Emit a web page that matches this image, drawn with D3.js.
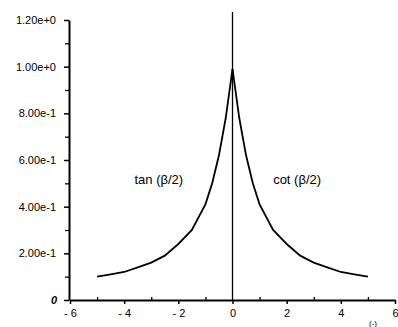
<!DOCTYPE html>
<html>
<head>
<meta charset="utf-8">
<script src="https://cdn.jsdelivr.net/npm/d3@7"></script>
<style>
body { margin: 0; background: #fff; }
svg { display: block; font-family: "Liberation Sans", Arial, sans-serif; }
.axis path, .axis line { stroke: #000; }
.axis text { fill: #000; }
</style>
</head>
<body>
<svg width="398" height="327"></svg>
<script>
// values
var xs = [-5, -4.5, -4, -3.5, -3, -2.5, -2, -1.5, -1, -0.75, -0.5, -0.25, 0]
var tanVals = [0.10, 0.11, 0.12, 0.14, 0.16, 0.19, 0.24, 0.30, 0.41, 0.50, 0.62, 0.78, 0.99]
var xsR = [0, 0.25, 0.5, 0.75, 1, 1.5, 2, 2.5, 3, 3.5, 4, 4.5, 5]
var cotVals = [0.99, 0.78, 0.62, 0.50, 0.41, 0.30, 0.24, 0.19, 0.16, 0.14, 0.12, 0.11, 0.10]

var yTicks = [0, 0.2, 0.4, 0.6, 0.8, 1.0, 1.2]
var yTickLabels = ["0", "2.00e-1", "4.00e-1", "6.00e-1", "8.00e-1", "1.00e+0", "1.20e+0"]
var yMinor = [0.1, 0.3, 0.5, 0.7, 0.9, 1.1]
var xTicks = [-6, -4, -2, 0, 2, 4, 6]
var xTickLabels = ["- 6", "- 4", "- 2", "0", "2", "4", "6"]
var xMinor = [-5, -3, -1, 1, 3, 5]

var svg = d3.select('svg')

var x = d3.scaleLinear().domain([-6, 6]).range([70, 395])
var y = d3.scaleLinear().domain([0, 1.2]).range([300, 20])

// minor ticks
svg.append('g')
.attr('class', 'axis')
.attr('transform', 'translate(69,0)')
.call(d3.axisLeft(y).tickValues(yMinor).tickSize(4).tickFormat(''))
.call(function (g) { g.select('.domain').remove() })
.selectAll('line').attr('stroke-width', 1.3)

svg.append('g')
.attr('class', 'axis')
.attr('transform', 'translate(0,300)')
.call(d3.axisTop(x).tickValues(xMinor).tickSize(3).tickFormat(''))
.call(function (g) { g.select('.domain').remove() })
.selectAll('line').attr('stroke-width', 1.3)

// y axis
var ya = svg.append('g')
.attr('class', 'axis')
.attr('transform', 'translate(69,0)')
.call(d3.axisLeft(y).tickValues(yTicks).tickSizeInner(5).tickSizeOuter(0).tickPadding(8)
  .tickFormat(function (d, i) { return yTickLabels[i] }))
ya.select('.domain').attr('stroke-width', 2)
ya.selectAll('line').attr('stroke-width', 1.5)
ya.selectAll('text').attr('font-size', 11)
ya.selectAll('.tick').filter(function (d) { return d === 0 }).select('text')
.attr('font-style', 'italic').attr('font-weight', 'bold').attr('x', -12)

// x axis
var xa = svg.append('g')
.attr('class', 'axis')
.attr('transform', 'translate(0,300)')
.call(d3.axisBottom(x).tickValues(xTicks).tickSizeInner(4).tickSizeOuter(0).tickPadding(5)
  .tickFormat(function (d, i) { return xTickLabels[i] }))
xa.select('.domain').attr('stroke-width', 2)
xa.selectAll('line').attr('stroke-width', 1.5)
xa.selectAll('text').attr('font-size', 11)

// vertical line at zero
svg.append('line')
.attr('x1', x(0)).attr('x2', x(0))
.attr('y1', 12).attr('y2', y(0))
.attr('stroke', '#000').attr('stroke-width', 1.3)

var line = d3.line()
.x(function (d) { return x(d[0]) })
.y(function (d) { return y(d[1]) })

svg.append('path')
.datum(d3.zip(xs, tanVals))
.attr('d', line)
.attr('fill', 'none').attr('stroke', '#000').attr('stroke-width', 1.8)

svg.append('path')
.datum(d3.zip(xsR, cotVals))
.attr('d', line)
.attr('fill', 'none').attr('stroke', '#000').attr('stroke-width', 1.8)

svg.append('text')
.attr('x', x(-3.62)).attr('y', y(0.498))
.attr('font-size', 13)
.text('tan (\u03b2/2)')

svg.append('text')
.attr('x', x(1.5)).attr('y', y(0.498))
.attr('font-size', 13)
.text('cot (\u03b2/2)')

svg.append('text')
.attr('x', 369).attr('y', 326)
.attr('font-size', 8)
.text('(-)')
</script>
</body>
</html>
